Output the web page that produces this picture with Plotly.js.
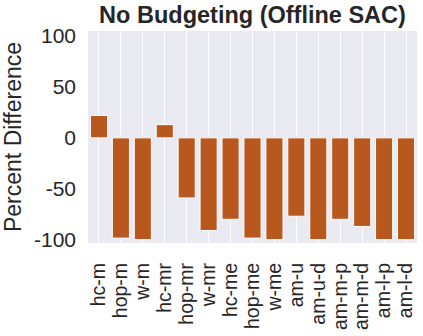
<!DOCTYPE html>
<html>
<head>
<meta charset="utf-8">
<script src="https://cdn.plot.ly/plotly-3.0.1.min.js"></script>
<style>
  html, body { margin: 0; padding: 0; background: white; }
  #chart { width: 423px; height: 336px; }
</style>
</head>
<body>
<div id="chart"></div>
<script>
// categories and percent difference values
const tasks = ['hc-m', 'hop-m', 'w-m', 'hc-mr', 'hop-mr', 'w-mr', 'hc-me', 'hop-me',
  'w-me', 'am-u', 'am-u-d', 'am-m-p', 'am-m-d', 'am-l-p', 'am-l-d'];
const pctDiff = [22, -98.5, -100, 13, -59, -91, -80, -98.5, -100, -77, -100, -80, -87, -100, -100];
const yTicks = [-100, -50, 0, 50, 100];
const yTickText = ['-100', '-50', '0', '50', '100'];

var trace = {
  x: tasks,
  y: pctDiff,
  type: 'bar',
  width: 0.78,
  marker: {
    color: '#b8581f',
    line: { color: 'white', width: 1 }
  },
  hoverinfo: 'x+y'
};

var layout = {
  width: 423,
  height: 336,
  margin: { l: 88, r: 6, t: 31, b: 93 },
  paper_bgcolor: 'white',
  plot_bgcolor: '#eaeaf2',
  font: { family: 'Liberation Sans, Arial, sans-serif', color: '#262626' },
  title: {
    text: '<b>No Budgeting (Offline SAC)</b>',
    font: { size: 23.5, color: '#262626' },
    xref: 'paper',
    x: 0.5,
    xanchor: 'center',
    yref: 'container',
    y: 0.955,
    yanchor: 'middle'
  },
  xaxis: {
    range: [-0.5, 14.5],
    tickmode: 'array',
    tickvals: tasks,
    ticktext: tasks,
    tickangle: -90,
    tickfont: { size: 19.5 },
    showgrid: true,
    gridcolor: 'white',
    gridwidth: 1,
    zeroline: false,
    ticks: '',
    ticklabelstandoff: 15
  },
  yaxis: {
    range: [-103.3, 105],
    tickmode: 'array',
    tickvals: yTicks,
    ticktext: yTickText,
    tickfont: { size: 21 },
    showgrid: false,
    zeroline: false,
    ticks: '',
    ticklabelstandoff: 11,
    title: { text: 'Percent Difference', font: { size: 23 }, standoff: 10 }
  },
  bargap: 0.2,
  showlegend: false
};

Plotly.newPlot('chart', [trace], layout, { displayModeBar: false, staticPlot: true });
</script>
</body>
</html>
